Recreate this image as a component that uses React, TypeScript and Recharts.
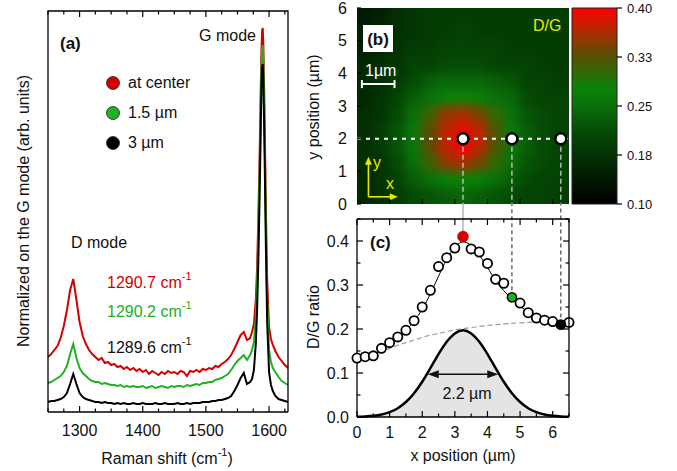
import React from 'react';
import {
  Area,
  Bar,
  BarChart,
  ComposedChart,
  Legend,
  Line,
  ReferenceLine,
  Scatter,
  ScatterChart,
  XAxis,
  YAxis,
} from 'recharts';

const W = 677;
const H = 471;
const FONT = '"Liberation Sans", Arial, Helvetica, sans-serif';

// plot boxes in px for each panel
const A_BOX = { left: 48, right: 288, top: 11, bottom: 412 };
const B_BOX = { left: 357, right: 569, top: 8, bottom: 204 };
const CB_BOX = { left: 572, right: 617, top: 8, bottom: 204 };
const C_BOX = { left: 357, right: 569, top: 219, bottom: 417 };

type Box = { left: number; right: number; top: number; bottom: number };
// every visible axis takes 1px, so take it back off the margin
const marginOf = (b: Box, axes: string[]) => ({
  left: b.left - (axes.includes('left') ? 1 : 0),
  right: W - b.right - (axes.includes('right') ? 1 : 0),
  top: b.top - (axes.includes('top') ? 1 : 0),
  bottom: H - b.bottom - (axes.includes('bottom') ? 1 : 0),
});

const RED = '#d40000';
const GREEN = '#22b022';
const YELLOW = '#e8e800';

// ---------- (a) Raman spectra, arb. units ----------
const shift = [
  1250, 1255, 1260, 1265, 1270, 1275, 1280, 1285, 1290, 1295,
  1300, 1305, 1310, 1315, 1320, 1325, 1330, 1335, 1340, 1345,
  1350, 1355, 1360, 1365, 1370, 1375, 1380, 1385, 1390, 1395,
  1400, 1405, 1410, 1415, 1420, 1425, 1430, 1435, 1440, 1445,
  1450, 1455, 1460, 1465, 1470, 1475, 1480, 1485, 1490, 1495,
  1500, 1505, 1510, 1515, 1520, 1525, 1530, 1535, 1540, 1545,
  1550, 1555, 1560, 1565, 1570,
  1573, 1576, 1579, 1581, 1583, 1585, 1586, 1587, 1588, 1589,
  1590, 1591, 1592, 1593, 1595, 1597, 1600, 1603, 1606, 1610,
  1615, 1620, 1625, 1630,
];

const specCenter = [
  55, 58, 62, 66, 74, 86, 102, 122, 133, 112,
  90, 76, 68, 62, 58, 55, 52, 54, 49, 50,
  47, 48, 45, 46, 43, 45, 42, 44, 41, 43,
  40, 42, 38, 41, 39, 37, 40, 38, 41, 39,
  40, 38, 41, 40, 36, 41, 40, 42, 40, 43,
  42, 44, 43, 46, 45, 48, 50, 53, 57, 63,
  70, 77, 80, 72, 74,
  80, 88, 112, 143, 192, 255, 290, 330, 362, 381,
  384, 367, 332, 292, 202, 132, 85, 73, 67, 61,
  55, 51, 47, 44,
];

const spec15 = [
  29, 30, 32, 34, 36, 40, 46, 58, 68, 54,
  44, 39, 36, 33, 31, 30, 30, 28, 29, 28,
  27, 27, 26, 27, 25, 26, 25, 26, 25, 25,
  26, 24, 25, 26, 24, 25, 26, 25, 24, 26,
  25, 26, 26, 25, 27, 26, 27, 28, 27, 29,
  29, 30, 30, 32, 33, 34, 36, 38, 42, 47,
  51, 54, 57, 52, 57,
  62, 70, 95, 125, 175, 238, 272, 312, 345, 364,
  367, 350, 315, 275, 185, 112, 62, 50, 44, 40,
  35, 31, 29, 27,
];

const spec3 = [
  10, 11, 11, 12, 13, 15, 19, 28, 38, 28,
  19, 15, 13, 12, 11, 10, 10, 9, 10, 9,
  9, 8, 9, 8, 9, 8, 8, 9, 8, 8,
  9, 8, 8, 8, 9, 8, 8, 9, 8, 8,
  8, 9, 8, 8, 9, 8, 9, 9, 9, 10,
  10, 10, 11, 11, 12, 12, 13, 14, 16, 21,
  27, 34, 39, 28, 30,
  33, 42, 68, 100, 150, 215, 250, 290, 325, 345,
  348, 330, 295, 255, 165, 90, 40, 27, 21, 16,
  13, 12, 11, 10,
];

const legendNames = ['at center', '1.5 µm', '3 µm'];

const aDomainX = [1250, 1630];
const aDomainY = [0, 401];
const aTicks = [1250, 1275, 1300, 1325, 1350, 1375, 1400, 1425, 1450, 1475, 1500, 1525, 1550, 1575, 1600, 1625];
const aMajor = [1300, 1400, 1500, 1600];

// ---------- (b) D/G map ----------
const heatX = [0.25, 0.75, 1.25, 1.75, 2.25, 2.75, 3.25, 3.75, 4.25, 4.75, 5.25, 5.75, 6.25];
const heatY = [5.75, 5.25, 4.75, 4.25, 3.75, 3.25, 2.75, 2.25, 1.75, 1.25, 0.75, 0.25];
const heatRows = [
  [0.14, 0.15, 0.17, 0.18, 0.19, 0.19, 0.19, 0.19, 0.19, 0.19, 0.19, 0.19, 0.19],
  [0.15, 0.16, 0.17, 0.18, 0.19, 0.19, 0.2, 0.19, 0.19, 0.19, 0.19, 0.19, 0.19],
  [0.15, 0.16, 0.18, 0.19, 0.19, 0.2, 0.2, 0.2, 0.2, 0.19, 0.19, 0.19, 0.19],
  [0.16, 0.17, 0.18, 0.2, 0.2, 0.21, 0.21, 0.21, 0.2, 0.2, 0.2, 0.19, 0.19],
  [0.16, 0.17, 0.19, 0.21, 0.23, 0.24, 0.24, 0.24, 0.23, 0.22, 0.2, 0.2, 0.19],
  [0.16, 0.18, 0.2, 0.23, 0.25, 0.27, 0.28, 0.27, 0.25, 0.24, 0.21, 0.2, 0.2],
  [0.17, 0.18, 0.21, 0.25, 0.31, 0.35, 0.36, 0.34, 0.3, 0.25, 0.22, 0.21, 0.2],
  [0.17, 0.19, 0.22, 0.26, 0.33, 0.37, 0.39, 0.37, 0.32, 0.26, 0.23, 0.21, 0.2],
  [0.17, 0.19, 0.22, 0.26, 0.33, 0.37, 0.4, 0.37, 0.32, 0.26, 0.23, 0.21, 0.2],
  [0.17, 0.18, 0.21, 0.25, 0.31, 0.35, 0.36, 0.34, 0.3, 0.25, 0.22, 0.21, 0.2],
  [0.16, 0.18, 0.2, 0.23, 0.25, 0.27, 0.28, 0.27, 0.25, 0.23, 0.21, 0.2, 0.2],
  [0.16, 0.17, 0.19, 0.21, 0.22, 0.23, 0.24, 0.23, 0.22, 0.21, 0.2, 0.2, 0.19],
];

const cmapStops = [0.1, 0.14, 0.175, 0.21, 0.25, 0.275, 0.3, 0.33, 0.36, 0.4];
const cmapColors = ['#000000', '#011a01', '#033203', '#054a05', '#0a700a', '#088408', '#2f6a04', '#5c4c02', '#a83000', '#ff0000'];

const cbTicks = [0.1, 0.175, 0.25, 0.325, 0.4];
const cbLabels = ['0.10', '0.18', '0.25', '0.33', '0.40'];

const markX = [3.25, 4.75, 6.25];
const markRowY = 2;
const bTicksY = [0, 1, 2, 3, 4, 5, 6];
const bTicksX = [1, 2, 3, 4, 5, 6];

// ---------- (c) D/G profile ----------
const openX = [0, 0.25, 0.5, 0.75, 1, 1.25, 1.5, 1.75, 2, 2.25, 2.5, 2.75, 3, 3.5, 3.75, 4, 4.25, 4.5, 5, 5.25, 5.5, 5.75, 6, 6.5];
const openRatio = [0.134, 0.137, 0.139, 0.156, 0.169, 0.182, 0.197, 0.219, 0.25, 0.288, 0.342, 0.362, 0.384, 0.382, 0.375, 0.349, 0.313, 0.304, 0.259, 0.237, 0.225, 0.22, 0.217, 0.215];
const markRatio = [0.41, 0.272, 0.21];
const markFill = [RED, GREEN, '#000'];

const profX = [0, 0.25, 0.5, 0.75, 1, 1.25, 1.5, 1.75, 2, 2.25, 2.5, 2.75, 3, 3.25, 3.5, 3.75, 4, 4.25, 4.5, 4.75, 5, 5.25, 5.5, 5.75, 6, 6.25, 6.5];
const fitRatio = [0.128, 0.135, 0.142, 0.152, 0.165, 0.18, 0.197, 0.218, 0.245, 0.28, 0.32, 0.358, 0.386, 0.398, 0.39, 0.368, 0.34, 0.31, 0.287, 0.268, 0.252, 0.239, 0.229, 0.222, 0.217, 0.214, 0.213];
const bgRatio = [0.126, 0.134, 0.141, 0.148, 0.156, 0.163, 0.169, 0.175, 0.181, 0.186, 0.19, 0.194, 0.198, 0.201, 0.203, 0.206, 0.208, 0.21, 0.211, 0.213, 0.214, 0.215, 0.216, 0.217, 0.217, 0.218, 0.218];
const spotProfile = [0.0005, 0.0011, 0.0026, 0.0055, 0.011, 0.02, 0.034, 0.054, 0.08, 0.111, 0.143, 0.171, 0.19, 0.197, 0.19, 0.171, 0.143, 0.111, 0.08, 0.054, 0.034, 0.02, 0.011, 0.0055, 0.0026, 0.0011, 0.0005];
const fwhmSpan = [2.17, 4.33];
const fwhmLevel = 0.097;

const cDomainX = [0, 6.5];
const cDomainY = [0, 0.45];
const cTicksX = [0, 0.5, 1, 1.5, 2, 2.5, 3, 3.5, 4, 4.5, 5, 5.5, 6, 6.5];
const cMajorX = [0, 1, 2, 3, 4, 5, 6];
const cTicksY = [0, 0.05, 0.1, 0.15, 0.2, 0.25, 0.3, 0.35, 0.4, 0.45];
const cMajorY = [0, 0.1, 0.2, 0.3, 0.4];

const MAJOR_PX = 6;
const MINOR_PX = 3.5;

// ---------- helpers ----------
function hexRgb(h: string) {
  return [parseInt(h.slice(1, 3), 16), parseInt(h.slice(3, 5), 16), parseInt(h.slice(5, 7), 16)];
}

function colorFor(v: number) {
  const c = Math.min(Math.max(v, cmapStops[0]), cmapStops[cmapStops.length - 1]);
  let i = 0;
  while (i < cmapStops.length - 2 && c > cmapStops[i + 1]) i++;
  const t = (c - cmapStops[i]) / (cmapStops[i + 1] - cmapStops[i]);
  const a = hexRgb(cmapColors[i]);
  const b = hexRgb(cmapColors[i + 1]);
  const m = a.map((q, k) => Math.round(q + (b[k] - q) * t));
  return `rgb(${m[0]},${m[1]},${m[2]})`;
}

const isIn = (list: number[], v: number) => list.some((m) => Math.abs(m - v) < 1e-6);

// linear maps for the box frames and the mirrored ticks on top / right
const scaleX = (b: Box, d: number[]) => (v: number) => b.left + ((v - d[0]) / (d[1] - d[0])) * (b.right - b.left);
const scaleY = (b: Box, d: number[]) => (v: number) => b.bottom - ((v - d[0]) / (d[1] - d[0])) * (b.bottom - b.top);

type Side = 'top' | 'bottom' | 'left' | 'right';
type TickOpts = {
  majors: number[];
  major: number;
  minor: number;
  label?: (v: number) => string;
  gap?: number;
  fontSize?: number;
  outward?: boolean;
};

function makeTick(side: Side, o: TickOpts) {
  return function TickMark(props: any) {
    const { x, y, payload } = props;
    const v = Number(payload.value);
    const isMajor = isIn(o.majors, v);
    const len = isMajor ? o.major : o.minor;
    const s = o.outward ? -1 : 1;
    const gap = o.gap ?? 10;
    const txt = isMajor && o.label ? o.label(v) : null;
    const tp = { fontSize: o.fontSize ?? 16, fill: '#111', stroke: 'none', dominantBaseline: 'central' as const };
    let line;
    let text = null;
    if (side === 'bottom') {
      line = <line x1={x} y1={y} x2={x} y2={y - s * len} />;
      if (txt) text = <text x={x} y={y + gap} textAnchor="middle" {...tp}>{txt}</text>;
    } else if (side === 'top') {
      line = <line x1={x} y1={y} x2={x} y2={y + s * len} />;
    } else if (side === 'left') {
      line = <line x1={x} y1={y} x2={x + s * len} y2={y} />;
      if (txt) text = <text x={x - gap} y={y} textAnchor="end" {...tp}>{txt}</text>;
    } else {
      line = <line x1={x} y1={y} x2={x - s * len} y2={y} />;
      if (txt) text = <text x={x + gap} y={y} textAnchor="start" {...tp}>{txt}</text>;
    }
    return (
      <g>
        {len > 0 && <g stroke="#000" strokeWidth={1.2}>{line}</g>}
        {text}
      </g>
    );
  };
}

function arrowShape(color: string, width: number, both: boolean, head = 9, half = 4) {
  return function ArrowLine(p: any) {
    const { x1, y1, x2, y2 } = p;
    const dx = x2 - x1;
    const dy = y2 - y1;
    const L = Math.hypot(dx, dy) || 1;
    const ux = dx / L;
    const uy = dy / L;
    const nx = -uy;
    const ny = ux;
    const tri = (tx: number, ty: number, ex: number, ey: number) =>
      `${tx},${ty} ${tx - ex * head + nx * half},${ty - ey * head + ny * half} ${tx - ex * head - nx * half},${ty - ey * head - ny * half}`;
    return (
      <g>
        <line
          x1={both ? x1 + ux * head * 0.7 : x1}
          y1={both ? y1 + uy * head * 0.7 : y1}
          x2={x2 - ux * head * 0.7}
          y2={y2 - uy * head * 0.7}
          stroke={color}
          strokeWidth={width}
        />
        <polygon points={tri(x2, y2, ux, uy)} fill={color} />
        {both && <polygon points={tri(x1, y1, -ux, -uy)} fill={color} />}
      </g>
    );
  };
}

function ScaleBar(p: any) {
  const { x1, y1, x2, y2 } = p;
  return (
    <g stroke="#fff" strokeWidth={2}>
      <line x1={x1} y1={y1} x2={x2} y2={y2} />
      <line x1={x1} y1={y1 - 4} x2={x1} y2={y1 + 4} />
      <line x1={x2} y1={y2 - 4} x2={x2} y2={y2 + 4} />
    </g>
  );
}

const NoDot = () => <g />;

const HM_W = B_BOX.right - B_BOX.left;
const HM_H = B_BOX.bottom - B_BOX.top;
const HM_PAD = 14;
const CELL_W = HM_W / heatX.length;
const CELL_H = HM_H / heatY.length;

function HeatCell(props: any) {
  const { cx, cy, payload } = props;
  let x0 = cx - CELL_W / 2 - 0.5;
  let x1 = cx + CELL_W / 2 + 0.5;
  let y0 = cy - CELL_H / 2 - 0.5;
  let y1 = cy + CELL_H / 2 + 0.5;
  if (payload.col === 0) x0 -= HM_PAD;
  if (payload.col === heatX.length - 1) x1 += HM_PAD;
  if (payload.row === 0) y0 -= HM_PAD;
  if (payload.row === heatY.length - 1) y1 += HM_PAD;
  return <rect x={x0} y={y0} width={x1 - x0} height={y1 - y0} fill={colorFor(payload.v)} />;
}

const RingDot = (p: any) => <circle cx={p.cx} cy={p.cy} r={5.5} fill="#fff" stroke="#000" strokeWidth={2.5} />;
const OpenDot = (p: any) => <circle cx={p.cx} cy={p.cy} r={4.6} fill="#fff" stroke="#000" strokeWidth={1.8} />;
const FilledDot = (p: any) => (
  <circle
    cx={p.cx}
    cy={p.cy}
    r={p.payload.i === 0 ? 5.5 : 4.6}
    fill={p.payload.fill}
    stroke={p.payload.i === 0 ? RED : '#000'}
    strokeWidth={p.payload.i === 0 ? 0.5 : 1.5}
  />
);

function SpecLegend(props: any) {
  const items = (props.payload || [])
    .filter((it: any) => legendNames.includes(it.value))
    .sort((a: any, b: any) => legendNames.indexOf(a.value) - legendNames.indexOf(b.value));
  return (
    <div style={{ fontFamily: FONT }}>
      {items.map((it: any) => (
        <div key={it.value} style={{ display: 'flex', alignItems: 'center', height: 30 }}>
          <svg width={16} height={16}>
            <circle cx={8} cy={8} r={6.5} fill={it.color} stroke="#222" strokeWidth={0.8} />
          </svg>
          <span style={{ marginLeft: 7, fontSize: 16, color: '#111' }}>{it.value}</span>
        </div>
      ))}
    </div>
  );
}

const layer: React.CSSProperties = { position: 'absolute', left: 0, top: 0 };
const axisStroke = { stroke: '#000', strokeWidth: 1.3 };

export default function App() {
  const specData = shift.map((s, i) => ({ s, center: specCenter[i], d15: spec15[i], d3: spec3[i] }));

  const heatCells = heatRows.flatMap((row, r) =>
    row.map((v, c) => ({ x: heatX[c], y: heatY[r], v, row: r, col: c })),
  );

  const rowLine = [
    { x: 0, y: markRowY },
    { x: 6.5, y: markRowY },
  ];
  const markPts = markX.map((x) => ({ x, y: markRowY }));

  const openData = openX.map((x, i) => ({ x, y: openRatio[i] }));
  const markData = markX.map((x, i) => ({ x, y: markRatio[i], fill: markFill[i], i }));
  const fitData = profX.map((x, i) => ({ x, y: fitRatio[i] }));
  const bgData = profX.map((x, i) => ({ x, y: bgRatio[i] }));
  const spotData = profX.map((x, i) => ({ x, y: spotProfile[i] }));

  const cbData = [{ name: 'D/G', range: [cbTicks[0], cbTicks[cbTicks.length - 1]] }];

  const axA = scaleX(A_BOX, aDomainX);
  const cxS = scaleX(C_BOX, cDomainX);
  const cyS = scaleY(C_BOX, cDomainY);

  const rot = (x: number, y: number) => `rotate(-90 ${x} ${y})`;

  return (
    <div style={{ position: 'absolute', left: 0, top: 0, width: W, height: H, fontFamily: FONT, background: '#fff' }}>
      <svg width={0} height={0} style={{ position: 'absolute' }}>
        <defs>
          <linearGradient id="dgGrad" x1="0" y1="0" x2="0" y2="1">
            {cmapStops
              .slice()
              .reverse()
              .map((v, k) => (
                <stop
                  key={k}
                  offset={(cmapStops[cmapStops.length - 1] - v) / (cmapStops[cmapStops.length - 1] - cmapStops[0])}
                  stopColor={cmapColors[cmapStops.length - 1 - k]}
                />
              ))}
          </linearGradient>
        </defs>
      </svg>

      {/* (b) map image, blurred underneath the axes layer */}
      <div
        style={{
          position: 'absolute',
          left: B_BOX.left,
          top: B_BOX.top,
          width: HM_W,
          height: HM_H,
          overflow: 'hidden',
        }}
      >
        <div style={{ position: 'absolute', left: -HM_PAD, top: -HM_PAD, filter: 'blur(5px)' }}>
          <ScatterChart
            width={HM_W + 2 * HM_PAD}
            height={HM_H + 2 * HM_PAD}
            margin={{ top: HM_PAD, right: HM_PAD, bottom: HM_PAD, left: HM_PAD }}
          >
            <XAxis dataKey="x" type="number" domain={[0, 6.5]} hide />
            <YAxis dataKey="y" type="number" domain={[0, 6]} hide />
            <Scatter data={heatCells} shape={HeatCell} isAnimationActive={false} />
          </ScatterChart>
        </div>
      </div>

      {/* (a) spectra */}
      <div style={layer}>
        <ComposedChart width={W} height={H} data={specData} margin={marginOf(A_BOX, ['bottom'])}>
          <XAxis
            dataKey="s"
            type="number"
            domain={aDomainX}
            ticks={aTicks}
            interval={0}
            height={1}
            tickSize={0}
            tickMargin={0}
            tickLine={false}
            axisLine={axisStroke}
            tick={makeTick('bottom', { majors: aMajor, major: MAJOR_PX, minor: MINOR_PX, label: (v) => String(v), gap: 18 })}
          />
          <YAxis type="number" domain={aDomainY} hide />
          <Legend
            layout="horizontal"
            verticalAlign="middle"
            align="center"
            wrapperStyle={{ left: 105, top: 68, width: 120 }}
            content={SpecLegend}
          />
          <Line dataKey="center" name={legendNames[0]} stroke={RED} strokeWidth={2} dot={false} type="linear" isAnimationActive={false} />
          <Line dataKey="d15" name={legendNames[1]} stroke={GREEN} strokeWidth={2} dot={false} type="linear" isAnimationActive={false} />
          <Line dataKey="d3" name={legendNames[2]} stroke="#000" strokeWidth={2} dot={false} type="linear" isAnimationActive={false} />
        </ComposedChart>
      </div>

      {/* (b) axes and markers over the map */}
      <div style={layer}>
        <ComposedChart width={W} height={H} margin={marginOf(B_BOX, ['left', 'bottom'])}>
          <XAxis
            dataKey="x"
            type="number"
            domain={[0, 6.5]}
            ticks={bTicksX}
            interval={0}
            height={1}
            tickSize={0}
            tickMargin={0}
            tickLine={false}
            axisLine={false}
            tick={makeTick('bottom', { majors: bTicksX, major: 5, minor: 5 })}
          />
          <YAxis
            dataKey="y"
            type="number"
            domain={[0, 6]}
            ticks={bTicksY}
            interval={0}
            width={1}
            tickSize={0}
            tickMargin={0}
            tickLine={false}
            axisLine={false}
            tick={makeTick('left', { majors: bTicksY, major: 4, minor: 4, label: (v) => String(v), gap: 10 })}
          />
          <ReferenceLine segment={[{ x: 0.15, y: 3.67 }, { x: 1.15, y: 3.67 }]} ifOverflow="visible" shape={ScaleBar} />
          <ReferenceLine
            segment={[{ x: 0.35, y: 0.22 }, { x: 0.35, y: 1.45 }]}
            ifOverflow="visible"
            shape={arrowShape(YELLOW, 1.6, false, 8, 3.5)}
          />
          <ReferenceLine
            segment={[{ x: 0.35, y: 0.22 }, { x: 1.25, y: 0.22 }]}
            ifOverflow="visible"
            shape={arrowShape(YELLOW, 1.6, false, 8, 3.5)}
          />
          <Scatter
            data={rowLine}
            line={{ stroke: '#fff', strokeWidth: 2, strokeDasharray: '4 5' }}
            shape={NoDot}
            isAnimationActive={false}
          />
          {markX.map((x) => (
            <Scatter
              key={x}
              data={[
                { x, y: markRowY },
                { x, y: 0 },
              ]}
              line={{ stroke: '#d8d8d8', strokeWidth: 1.2, strokeDasharray: '5 3' }}
              shape={NoDot}
              isAnimationActive={false}
            />
          ))}
          <Scatter data={markPts} shape={RingDot} isAnimationActive={false} />
        </ComposedChart>
      </div>

      {/* colour bar */}
      <div style={layer}>
        <BarChart width={W} height={H} data={cbData} margin={marginOf(CB_BOX, ['right'])} barCategoryGap={0}>
          <XAxis dataKey="name" hide />
          <YAxis
            orientation="right"
            type="number"
            domain={[0.1, 0.4]}
            ticks={cbTicks}
            interval={0}
            width={1}
            tickSize={0}
            tickMargin={0}
            tickLine={false}
            axisLine={false}
            tick={makeTick('right', {
              majors: cbTicks,
              major: 5,
              minor: 5,
              outward: true,
              gap: 10,
              fontSize: 13,
              label: (v) => cbLabels[cbTicks.indexOf(v)],
            })}
          />
          <Bar dataKey="range" fill="url(#dgGrad)" stroke="#222" strokeWidth={1} isAnimationActive={false} />
        </BarChart>
      </div>

      {/* (c) D/G line profile */}
      <div style={layer}>
        <ComposedChart width={W} height={H} margin={marginOf(C_BOX, ['left', 'bottom'])}>
          <XAxis
            dataKey="x"
            type="number"
            domain={cDomainX}
            ticks={cTicksX}
            interval={0}
            height={1}
            tickSize={0}
            tickMargin={0}
            tickLine={false}
            axisLine={axisStroke}
            tick={makeTick('bottom', { majors: cMajorX, major: MAJOR_PX, minor: MINOR_PX, label: (v) => String(v), gap: 15 })}
          />
          <YAxis
            dataKey="y"
            type="number"
            domain={cDomainY}
            ticks={cTicksY}
            interval={0}
            width={1}
            tickSize={0}
            tickMargin={0}
            tickLine={false}
            axisLine={axisStroke}
            tick={makeTick('left', { majors: cMajorY, major: MAJOR_PX, minor: MINOR_PX, label: (v) => v.toFixed(1), gap: 8 })}
          />
          <Area
            data={spotData}
            dataKey="y"
            type="monotone"
            fill="#e4e4e4"
            fillOpacity={1}
            stroke="#000"
            strokeWidth={2.5}
            isAnimationActive={false}
          />
          <Line
            data={bgData}
            dataKey="y"
            type="monotone"
            stroke="#9a9a9a"
            strokeWidth={1.2}
            strokeDasharray="5 3"
            dot={false}
            isAnimationActive={false}
          />
          <Line data={fitData} dataKey="y" type="monotone" stroke="#000" strokeWidth={1} dot={false} isAnimationActive={false} />
          {markX.map((x, i) => (
            <ReferenceLine
              key={x}
              segment={[
                { x, y: markRatio[i] },
                { x, y: 0.485 },
              ]}
              ifOverflow="visible"
              stroke={i === 0 ? '#999' : '#333'}
              strokeWidth={1.1}
              strokeDasharray={i === 0 ? undefined : '4 3'}
            />
          ))}
          <ReferenceLine
            segment={[
              { x: fwhmSpan[0], y: fwhmLevel },
              { x: fwhmSpan[1], y: fwhmLevel },
            ]}
            ifOverflow="visible"
            shape={arrowShape('#111', 1.4, true, 11, 4)}
          />
          <Scatter data={openData} shape={OpenDot} isAnimationActive={false} />
          <Scatter data={markData} shape={FilledDot} isAnimationActive={false} />
        </ComposedChart>
      </div>

      {/* box frames, mirrored ticks and labels */}
      <svg width={W} height={H} style={{ position: 'absolute', left: 0, top: 0, pointerEvents: 'none' }}>
        <g stroke="#000" strokeWidth={1.3} fill="none">
          <polyline
            points={`${A_BOX.left},${A_BOX.bottom} ${A_BOX.left},${A_BOX.top} ${A_BOX.right},${A_BOX.top} ${A_BOX.right},${A_BOX.bottom}`}
          />
          {aTicks.map((t) => (
            <line
              key={`at${t}`}
              x1={axA(t)}
              y1={A_BOX.top}
              x2={axA(t)}
              y2={A_BOX.top + (isIn(aMajor, t) ? MAJOR_PX : MINOR_PX)}
              strokeWidth={1.2}
            />
          ))}
          <polyline points={`${C_BOX.left},${C_BOX.top} ${C_BOX.right},${C_BOX.top} ${C_BOX.right},${C_BOX.bottom}`} />
          {cTicksX.map((t) => (
            <line
              key={`ct${t}`}
              x1={cxS(t)}
              y1={C_BOX.top}
              x2={cxS(t)}
              y2={C_BOX.top + (isIn(cMajorX, t) ? MAJOR_PX : MINOR_PX)}
              strokeWidth={1.2}
            />
          ))}
          {cTicksY.map((t) => (
            <line
              key={`cr${t}`}
              x1={C_BOX.right}
              y1={cyS(t)}
              x2={C_BOX.right - (isIn(cMajorY, t) ? MAJOR_PX : MINOR_PX)}
              y2={cyS(t)}
              strokeWidth={1.2}
            />
          ))}
        </g>
        <g fontSize={16} fill="#111" dominantBaseline="central">
          <text x={23} y={211} transform={rot(23, 211)} textAnchor="middle">
            Normalized on the G mode (arb. units)
          </text>
          <text x={167} y={458} textAnchor="middle">
            Raman shift (cm<tspan dy={-6} fontSize={11}>-1</tspan>
            <tspan dy={6}>)</tspan>
          </text>
          <text x={60} y={43} fontWeight="bold" fontSize={17}>(a)</text>
          <text x={256} y={35} textAnchor="end">G mode</text>
          <text x={71} y={242}>D mode</text>
          <text x={107} y={282} fill={RED}>
            1290.7 cm<tspan dy={-6} fontSize={11}>-1</tspan>
          </text>
          <text x={107} y={311} fill={GREEN}>
            1290.2 cm<tspan dy={-6} fontSize={11}>-1</tspan>
          </text>
          <text x={107} y={347} fill="#111">
            1289.6 cm<tspan dy={-6} fontSize={11}>-1</tspan>
          </text>

          <text x={313} y={107} transform={rot(313, 107)} textAnchor="middle">
            y position (µm)
          </text>
          <rect x={363} y={25} width={30} height={27} fill="#fff" />
          <text x={378} y={39} textAnchor="middle" fontWeight="bold" fontSize={17}>(b)</text>
          <text x={533} y={25} fill={YELLOW}>D/G</text>
          <text x={365} y={70} fill="#fff">1µm</text>
          <text x={373} y={162} fill={YELLOW}>y</text>
          <text x={386} y={183} fill={YELLOW}>x</text>

          <text x={313} y={317} transform={rot(313, 317)} textAnchor="middle">
            D/G ratio
          </text>
          <text x={463} y={455} textAnchor="middle">x position (µm)</text>
          <text x={370} y={242} fontWeight="bold" fontSize={17}>(c)</text>
          <text x={467} y={393} textAnchor="middle">2.2 µm</text>
        </g>
      </svg>
    </div>
  );
}
